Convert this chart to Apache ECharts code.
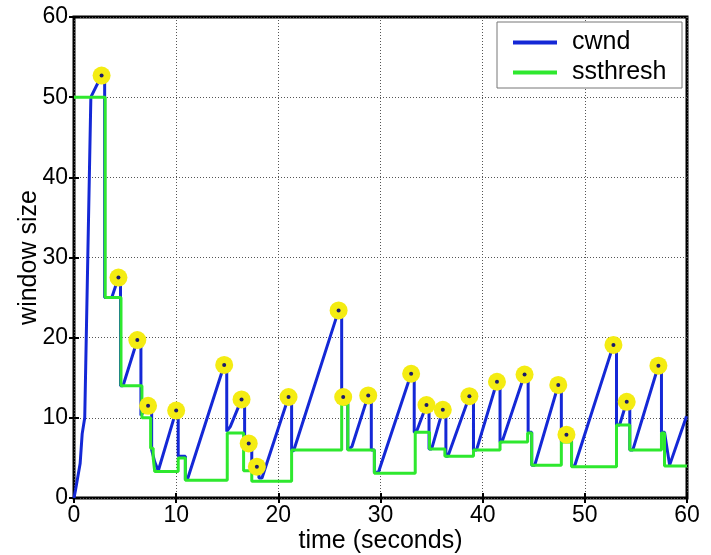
<!DOCTYPE html>
<html>
<head>
<meta charset="utf-8">
<script src="https://cdn.jsdelivr.net/npm/echarts@6/dist/echarts.min.js"></script>
<style>
  html, body { margin: 0; padding: 0; background: #fff; }
  #chart { width: 711px; height: 555px; }
</style>
</head>
<body>
<div id="chart"></div>
<script>
// cwnd trace [time, window]
const cwnd = [
  [0, 0], [0.15, 1], [0.6, 4.3], [0.8, 8], [1.05, 10], [1.35, 30], [1.65, 50],
  [2.7, 52.7], [3.0, 53.3], [3.0, 25], [3.7, 25], [4.35, 27.5], [4.55, 28],
  [4.55, 14], [4.8, 14], [6.2, 19.7], [6.55, 20.2], [6.55, 10.3], [7.25, 11.5],
  [7.6, 11.8], [7.6, 6], [7.9, 4.5], [8.25, 3.4], [10.0, 10.9], [10.2, 11.2],
  [10.2, 5.2], [10.9, 5.2], [10.9, 2.3], [11.1, 2.3], [14.7, 16.6], [14.95, 17],
  [14.95, 8.3], [15.3, 8.9], [16.4, 12.3], [16.7, 12.6], [16.7, 7.8], [17.1, 6.8],
  [17.4, 6.5], [17.4, 4.5], [17.9, 3.9], [18.1, 3.9], [18.1, 2.5], [18.4, 2.5],
  [21.0, 12.6], [21.3, 12.9], [21.3, 5.9], [21.5, 5.9], [25.9, 23.4], [26.2, 24],
  [26.2, 11.8], [26.35, 12.6], [26.8, 12.8], [26.8, 6], [27.2, 6.4], [28.8, 12.8],
  [29.1, 13.1], [29.1, 6], [29.4, 6], [29.4, 3.2], [29.8, 3.2], [33.0, 15.5],
  [33.3, 15.8], [33.3, 8.2], [33.5, 8.2], [34.5, 11.6], [34.75, 11.9], [34.75, 6.1],
  [35.0, 6.1], [36.1, 11.0], [36.4, 11.3], [36.4, 5.2], [36.6, 5.2], [38.7, 12.7],
  [39.1, 13.1], [39.1, 6], [39.4, 6], [41.4, 14.5], [41.7, 14.8], [41.7, 7],
  [41.9, 7], [44.1, 15.4], [44.45, 15.7], [44.45, 8.2], [44.8, 8.2], [44.8, 4.1],
  [45.1, 4.1], [47.4, 14.1], [47.7, 14.4], [47.7, 7], [48.2, 7.9], [48.7, 7.9],
  [48.7, 4], [49.0, 4], [52.8, 19.1], [53.1, 19.4], [53.1, 9.1], [53.4, 9.1],
  [54.1, 12.0], [54.4, 12.4], [54.4, 6], [54.7, 6], [57.2, 16.5], [57.5, 16.8],
  [57.5, 8.2], [57.8, 8.2], [58.3, 4.1], [59.95, 10.2]
];

// ssthresh steps [time, window]
const ssthresh = [
  [0, 50], [3.05, 50], [3.05, 25], [4.6, 25], [4.6, 14], [6.65, 14], [6.65, 10],
  [7.5, 10], [7.5, 6.2], [7.75, 6.2], [7.75, 5], [7.9, 5], [7.9, 3.3], [10.2, 3.3],
  [10.2, 5.0], [10.9, 5.0], [10.9, 2.2], [15.0, 2.2], [15.0, 8.1], [16.6, 8.1],
  [16.6, 3.4], [17.4, 3.4], [17.4, 2.1], [21.3, 2.1], [21.3, 6], [26.2, 6],
  [26.2, 11.7], [26.8, 11.7], [26.8, 6], [29.4, 6], [29.4, 3.1], [33.4, 3.1],
  [33.4, 8.2], [34.8, 8.2], [34.8, 6.1], [36.3, 6.1], [36.3, 5.2], [39.1, 5.2],
  [39.1, 6.0], [41.7, 6.0], [41.7, 7.0], [44.4, 7.0], [44.4, 8.1], [44.8, 8.1],
  [44.8, 4.1], [47.7, 4.1], [47.7, 7.0], [48.7, 7.0], [48.7, 3.9], [53.1, 3.9],
  [53.1, 9.1], [54.4, 9.1], [54.4, 6.0], [57.5, 6.0], [57.5, 8.1], [57.8, 8.1],
  [57.8, 4.0], [60, 4.0]
];

// loss events (yellow markers)
const losses = [
  [2.7, 52.7], [4.35, 27.5], [6.2, 19.7], [7.25, 11.5], [10.0, 10.9], [14.7, 16.6],
  [16.4, 12.3], [17.1, 6.8], [17.9, 3.9], [21.0, 12.6], [25.9, 23.4], [26.35, 12.6],
  [28.8, 12.8], [33.0, 15.5], [34.5, 11.6], [36.1, 11.0], [38.7, 12.7], [41.4, 14.5],
  [44.1, 15.4], [47.4, 14.1], [48.2, 7.9], [52.8, 19.1], [54.1, 12.0], [57.2, 16.5]
];

const xTicks = [0, 10, 20, 30, 40, 50, 60];
const yTicks = [0, 10, 20, 30, 40, 50, 60];

const font = "'Liberation Sans', Arial, Helvetica, sans-serif";
const chart = echarts.init(document.getElementById('chart'));

const baseAxis = {
  type: 'value',
  min: 0,
  max: 60,
  interval: 10,
  axisLine: { show: false },
  axisTick: { show: true, inside: true, length: 5, lineStyle: { color: '#000', width: 2 } },
  splitLine: { show: false },
  axisLabel: { show: false }
};

chart.setOption({
  animation: false,
  backgroundColor: '#fff',
  textStyle: { fontFamily: font },
  grid: {
    left: 74, right: 24, top: 17, bottom: 57,
    outerBoundsMode: 'none', containLabel: false,
    show: true, borderColor: '#000', borderWidth: 3, backgroundColor: '#fff'
  },
  graphic: [{
    type: 'rect', z: 50,
    shape: { x: 497, y: 22, width: 185, height: 66 },
    style: { fill: '#fff', stroke: '#777', lineWidth: 1 }
  }],
  legend: {
    z: 60,
    left: 508, top: 25,
    orient: 'vertical',
    itemWidth: 44, itemHeight: 4, itemGap: 5,
    icon: 'rect',
    data: ['cwnd', 'ssthresh'],
    textStyle: { fontSize: 25, color: '#000', padding: [0, 0, 0, 10], fontFamily: font }
  },
  xAxis: [
    Object.assign({}, baseAxis, {
      position: 'bottom',
      name: 'time (seconds)',
      nameLocation: 'middle',
      nameGap: 31,
      nameMoveOverlap: false,
      nameTextStyle: { fontSize: 25, color: '#000', fontFamily: font },
      axisLabel: {
        show: true, fontSize: 23, color: '#000', margin: 6, fontFamily: font,
        formatter: v => xTicks.includes(v) ? String(v) : ''
      },
      splitLine: { show: true, lineStyle: { color: '#555', type: [1, 2], width: 1 } }
    }),
    Object.assign({}, baseAxis, { position: 'top' })
  ],
  yAxis: [
    Object.assign({}, baseAxis, {
      position: 'left',
      name: 'window size',
      nameLocation: 'middle',
      nameGap: 32,
      nameMoveOverlap: false,
      nameTextStyle: { fontSize: 25, color: '#000', fontFamily: font },
      axisLabel: {
        show: true, fontSize: 23, color: '#000', margin: 6, fontFamily: font,
        formatter: v => yTicks.includes(v) ? String(v) : ''
      },
      splitLine: { show: true, lineStyle: { color: '#555', type: [1, 2], width: 1 } }
    }),
    Object.assign({}, baseAxis, { position: 'right' })
  ],
  series: [
    {
      name: 'cwnd', type: 'line', data: cwnd, showSymbol: false,
      lineStyle: { color: '#1428d6', width: 3 }, itemStyle: { color: '#1428d6' }, z: 3
    },
    {
      name: 'ssthresh', type: 'line', data: ssthresh, showSymbol: false,
      lineStyle: { color: '#2ee82e', width: 3 }, itemStyle: { color: '#2ee82e' }, z: 4
    },
    {
      name: 'loss', type: 'scatter', data: losses, symbolSize: 18,
      itemStyle: { color: '#f4ec12', opacity: 1 }, z: 5
    },
    {
      name: 'lossDot', type: 'scatter', data: losses, symbolSize: 4,
      itemStyle: { color: '#1a1a6a', opacity: 1 }, z: 6
    }
  ]
});
</script>
</body>
</html>
